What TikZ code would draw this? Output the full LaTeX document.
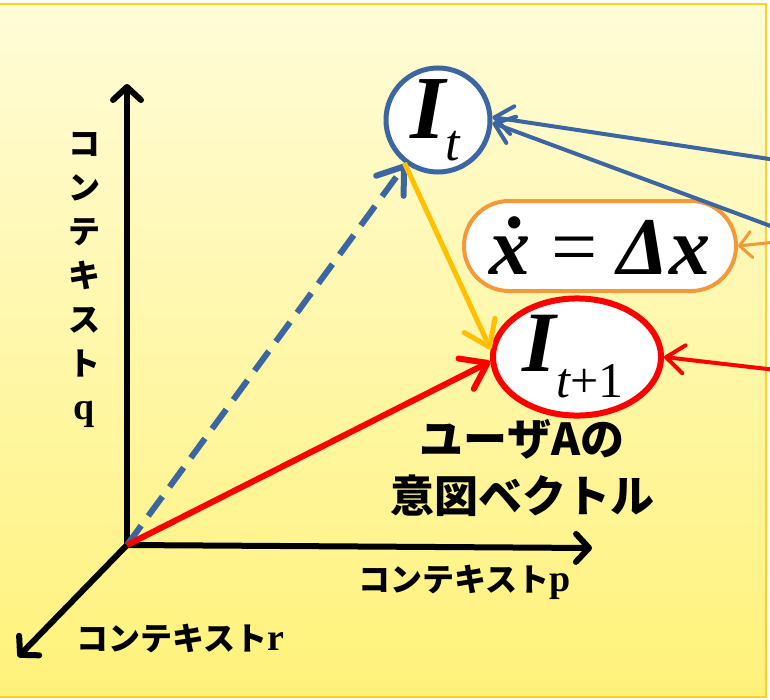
\documentclass[tikz,border=0pt]{standalone}
\usepackage{fontspec}
\setmainfont{Liberation Serif}
\newfontfamily\jp{Noto Sans CJK JP}
\usetikzlibrary{arrows.meta,shapes.geometric,positioning,calc}
\definecolor{itblue}{HTML}{3B66A2}
\definecolor{dxorange}{HTML}{F3993A}
\definecolor{stepyellow}{HTML}{FFC000}
\definecolor{nextred}{HTML}{FF0000}
\definecolor{bgtop}{HTML}{FFFCD8}
\definecolor{bgbot}{HTML}{FFF27A}
\definecolor{bgframe}{HTML}{FFD21E}

\begin{document}
\begin{tikzpicture}[x=1pt, y=-1pt,
    axis/.style={line width=6pt, -{Straight Barb[length=13pt,width=28pt,round]}},
    arr/.style={-{Straight Barb[length=24pt,width=34pt,round]}},
    inarr/.style={-{Straight Barb[length=18pt,width=28pt,round]}},
    lbl/.style={font=\jp\bfseries\fontsize{32}{44}\selectfont, inner sep=0pt, align=center},
    state/.style={draw, fill=white, inner sep=0pt}
]
\useasboundingbox (0,0) rectangle (770,699);
% background
\fill[top color=bgtop, bottom color=bgbot] (-10,4) rectangle (766,697);
\draw[bgframe, line width=2pt] (-10,4) rectangle (766,697);

% axes
\coordinate (O) at (127,545);
\coordinate (qend) at (127,84);
\coordinate (pend) at (592,548);
\coordinate (rend) at (18,657);
\draw[axis] (O) -- (qend);
\draw[axis] (O) -- (pend);
\draw[axis] (O) -- (rend);

\node[lbl] (qlab) at (84,280) {コ\\ン\\テ\\キ\\ス\\ト\\{\rmfamily\fontsize{38}{38}\selectfont q}};
\node[lbl] (plab) at (465,582) {コンテキスト{\rmfamily\fontsize{38}{38}\selectfont p}};
\node[lbl] (rlab) at (180,638) {コンテキスト{\rmfamily\fontsize{38}{38}\selectfont r}};

% states
\node[state, circle, draw=itblue, line width=5pt, minimum size=104pt] (It) at (438,120)
    {\hspace*{-6pt}{\fontsize{90}{90}\selectfont\bfseries\itshape I}\raisebox{-22pt}{\fontsize{52}{52}\selectfont\itshape t}};
\node[state, rectangle, rounded corners=45pt, draw=dxorange, line width=4pt,
      minimum width=272pt, minimum height=90pt] (dx) at (600,246)
    {\fontsize{82}{82}\selectfont{\bfseries\itshape\.x} = {\bfseries\itshape Δx}};
\node[state, ellipse, draw=nextred, line width=6pt, minimum width=168pt, minimum height=104pt] (Inext) at (577,357)
    {\hspace*{-8pt}{\fontsize{86}{86}\selectfont\bfseries\itshape I}\raisebox{-26pt}{\fontsize{50}{50}\selectfont{\itshape t}+1}};

\node[lbl, font=\jp\bfseries\fontsize{44}{57}\selectfont] (intent) at (522,468) {ユーザAの\\意図ベクトル};

% vectors
\draw[itblue, arr, line width=6pt, dash pattern=on 24pt off 12pt] (O) -- (It);
\draw[nextred, arr, line width=6pt] (O) -- (Inext.183);
\draw[stepyellow, arr, line width=5pt] (It.232) -- (Inext.175);

% inputs from the right
\coordinate (inA) at (776,160);
\coordinate (inB) at (776,228);
\coordinate (inC) at (776,242);
\coordinate (inD) at (776,370);
\draw[itblue, inarr, line width=4pt] (inA) -- (It.3);
\draw[itblue, inarr, line width=4pt] (inB) -- (It.-3);
\draw[dxorange, -{Straight Barb[length=12pt,width=26pt,round]}, line width=3pt] (inC) -- (dx.east);
\draw[nextred, inarr, line width=4pt] (inD) -- (Inext.east);
\end{tikzpicture}
\end{document}
